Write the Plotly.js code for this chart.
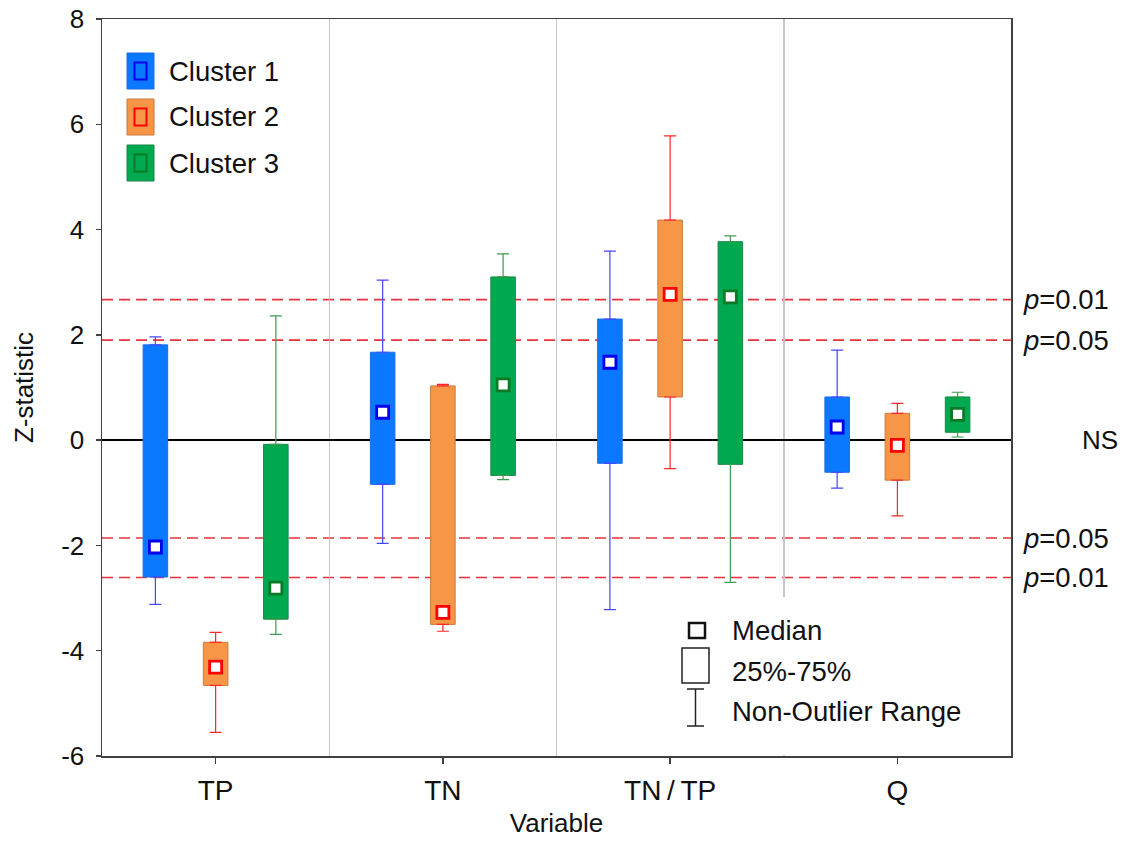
<!DOCTYPE html>
<html><head><meta charset="utf-8">
<script src="https://cdn.plot.ly/plotly-3.0.1.min.js"></script>
<style>html,body{margin:0;padding:0;background:#fff}</style>
</head><body><div id="chart" style="width:1123px;height:848px"></div>
<script>
// ---- data ----
const categories = ['TP', 'TN', 'TN/TP', 'Q'];
const tickLabels = ['TP', 'TN', 'TN\u2009/\u2009TP', 'Q'];
const clusterNames = ['Cluster 1', 'Cluster 2', 'Cluster 3'];

const c1Median = [-2.03, 0.53, 1.48, 0.25];
const c1Q1     = [-2.60, -0.84, -0.44, -0.61];
const c1Q3     = [1.81, 1.67, 2.30, 0.82];
const c1Min    = [-3.12, -1.96, -3.22, -0.91];
const c1Max    = [1.96, 3.04, 3.59, 1.71];

const c2Median = [-4.31, -3.27, 2.77, -0.10];
const c2Q1     = [-4.66, -3.50, 0.82, -0.76];
const c2Q3     = [-3.84, 1.03, 4.18, 0.51];
const c2Min    = [-5.55, -3.63, -0.54, -1.44];
const c2Max    = [-3.65, 1.06, 5.78, 0.70];

const c3Median = [-2.81, 1.05, 2.72, 0.49];
const c3Q1     = [-3.40, -0.67, -0.46, 0.15];
const c3Q3     = [-0.08, 3.10, 3.77, 0.82];
const c3Min    = [-3.69, -0.75, -2.70, 0.06];
const c3Max    = [2.36, 3.54, 3.88, 0.91];

const yTickVals = [-6, -4, -2, 0, 2, 4, 6, 8];
const yTickText = ['-6', '-4', '-2', '0', '2', '4', '6', '8'];
const pLevels = [2.67, 1.90, -1.86, -2.61];
const pLabels = ['0.01', '0.05', '0.05', '0.01'];
const nsLabel = 'NS';

// ---- styles ----
const FONT = 'Liberation Sans, Arial, sans-serif';
const fills    = ['#0a78ff', '#f79646', '#00a84f'];
const outlines = ['#1a6fe6', '#c97b3c', '#17884a'];
const whiskerC = ['#4646ff', '#ff2626', '#3e9a4e'];
const medEdge  = ['#0000ee', '#ff0000', '#0a7a25'];
const offsets  = [-0.265, 0, 0.265];
const boxW = 0.108;

const stats = [
  {med: c1Median, q1: c1Q1, q3: c1Q3, lo: c1Min, hi: c1Max},
  {med: c2Median, q1: c2Q1, q3: c2Q3, lo: c2Min, hi: c2Max},
  {med: c3Median, q1: c3Q1, q3: c3Q3, lo: c3Min, hi: c3Max}
];

const traces = [];
stats.forEach((s, k) => {
  const xs = categories.map((_, i) => i + offsets[k]);
  traces.push({
    type: 'bar', x: xs, base: s.q1, y: s.q3.map((v, i) => v - s.q1[i]),
    width: boxW, name: clusterNames[k], showlegend: false,
    marker: {color: fills[k], line: {color: outlines[k], width: 1}},
    hoverinfo: 'skip'
  });
});
stats.forEach((s, k) => {
  const xs = categories.map((_, i) => i + offsets[k]);
  traces.push({
    type: 'scatter', mode: 'markers', x: xs, y: s.q3, showlegend: false,
    marker: {size: 1, color: 'rgba(0,0,0,0)'}, hoverinfo: 'skip',
    error_y: {type: 'data', symmetric: false, array: s.hi.map((v, i) => v - s.q3[i]),
      arrayminus: s.q3.map(() => 0), color: whiskerC[k], thickness: 1.2, width: 6}
  });
  traces.push({
    type: 'scatter', mode: 'markers', x: xs, y: s.q1, showlegend: false,
    marker: {size: 1, color: 'rgba(0,0,0,0)'}, hoverinfo: 'skip',
    error_y: {type: 'data', symmetric: false, array: s.q1.map(() => 0),
      arrayminus: s.q1.map((v, i) => v - s.lo[i]), color: whiskerC[k], thickness: 1.2, width: 6}
  });
});
stats.forEach((s, k) => {
  const xs = categories.map((_, i) => i + offsets[k]);
  traces.push({
    type: 'scatter', mode: 'markers', x: xs, y: s.med, showlegend: false,
    marker: {symbol: 'square', size: 12, color: '#ffffff', line: {color: medEdge[k], width: 2.8}},
    hoverinfo: 'skip'
  });
});

// ---- layout helpers (pixel -> paper) ----
const L = 102, R = 1011, T = 19, B = 756;
const px = p => (p - L) / (R - L);
const py = p => (B - p) / (B - T);

const shapes = [];
// white background behind the bottom-right key (hides the grid line there)
shapes.push({type: 'rect', xref: 'paper', yref: 'paper', layer: 'above',
  x0: px(662), x1: px(990), y0: py(755.2), y1: py(597), fillcolor: '#ffffff', line: {width: 0}});
// significance lines
pLevels.forEach(v => shapes.push({type: 'line', xref: 'paper', yref: 'y', layer: 'between',
  x0: 0, x1: 1, y0: v, y1: v, line: {color: '#e8333c', width: 1.6, dash: '11px,6px'}}));

// cluster key icons
const keyY = [71, 117, 163];
keyY.forEach((cy, k) => {
  shapes.push({type: 'rect', xref: 'paper', yref: 'paper', layer: 'above',
    x0: px(127), x1: px(154), y0: py(cy + 18), y1: py(cy - 18),
    fillcolor: fills[k], line: {color: outlines[k], width: 1}});
  shapes.push({type: 'rect', xref: 'paper', yref: 'paper', layer: 'above',
    x0: px(134.5), x1: px(146.5), y0: py(cy + 8.5), y1: py(cy - 8.5),
    fillcolor: 'rgba(0,0,0,0)', line: {color: medEdge[k], width: 2}});
});
// bottom-right key icons
shapes.push({type: 'rect', xref: 'paper', yref: 'paper', layer: 'above',
  x0: px(689), x1: px(705), y0: py(638), y1: py(623), line: {color: '#111', width: 2.5}});
shapes.push({type: 'rect', xref: 'paper', yref: 'paper', layer: 'above',
  x0: px(682), x1: px(709), y0: py(683), y1: py(648), line: {color: '#222', width: 1.5}});
shapes.push({type: 'line', xref: 'paper', yref: 'paper', layer: 'above',
  x0: px(695.5), x1: px(695.5), y0: py(726), y1: py(689), line: {color: '#222', width: 1.5}});
shapes.push({type: 'line', xref: 'paper', yref: 'paper', layer: 'above',
  x0: px(687), x1: px(704), y0: py(689), y1: py(689), line: {color: '#222', width: 1.5}});
shapes.push({type: 'line', xref: 'paper', yref: 'paper', layer: 'above',
  x0: px(687), x1: px(704), y0: py(726), y1: py(726), line: {color: '#222', width: 1.5}});

const annotations = [];
keyY.forEach((cy, k) => annotations.push({xref: 'paper', yref: 'paper', x: px(167), y: py(cy),
  xanchor: 'left', yanchor: 'middle', showarrow: false, text: clusterNames[k],
  font: {family: FONT, size: 27.5, color: '#111'}}));
[['Median', 630], ['25%-75%', 671], ['Non-Outlier Range', 711]].forEach(([t, cy]) =>
  annotations.push({xref: 'paper', yref: 'paper', x: px(730), y: py(cy),
    xanchor: 'left', yanchor: 'middle', showarrow: false, text: t,
    font: {family: FONT, size: 27.5, color: '#111'}}));
pLevels.forEach((v, i) => annotations.push({xref: 'paper', yref: 'y', x: px(1021), y: v,
  xanchor: 'left', yanchor: 'middle', showarrow: false, text: '<i>p</i>=' + pLabels[i],
  font: {family: FONT, size: 27.5, color: '#111'}}));
annotations.push({xref: 'paper', yref: 'y', x: px(1100), y: 0, xanchor: 'center', yanchor: 'middle',
  showarrow: false, text: nsLabel, font: {family: FONT, size: 26, color: '#111'}});

const layout = {
  width: 1123, height: 848,
  margin: {l: L, r: 1123 - R, t: T, b: 848 - B, pad: 0},
  paper_bgcolor: '#ffffff', plot_bgcolor: '#ffffff',
  barmode: 'overlay', showlegend: false,
  font: {family: FONT, color: '#111'},
  xaxis: {
    range: [-0.5, 3.5], tickmode: 'array', tickvals: categories.map((_, i) => i), ticktext: tickLabels,
    ticks: 'outside', ticklen: 6, tickwidth: 1.3, tickcolor: '#404040',
    showline: true, linecolor: '#404040', linewidth: 1.5, mirror: true,
    showgrid: false, zeroline: false,
    tickfont: {family: FONT, size: 28, color: '#111'}, ticklabelstandoff: 3,
    minor: {tickmode: 'array', tickvals: categories.slice(1).map((_, i) => i + 0.5),
      showgrid: true, gridcolor: '#c6c6c6', gridwidth: 1.5, ticks: ''},
    title: {text: 'Variable', font: {family: FONT, size: 26, color: '#111'}, standoff: 8}
  },
  yaxis: {
    range: [-6, 8], tickmode: 'array', tickvals: yTickVals, ticktext: yTickText,
    ticks: 'outside', ticklen: 5, tickwidth: 1.3, tickcolor: '#404040',
    showline: true, linecolor: '#404040', linewidth: 1.5, mirror: true,
    showgrid: false, zeroline: true, zerolinecolor: '#000000', zerolinewidth: 2.5,
    tickfont: {family: FONT, size: 26, color: '#111'}, ticklabelstandoff: 6,
    title: {text: 'Z-statistic', font: {family: FONT, size: 26, color: '#111'}, standoff: 20}
  },
  shapes: shapes,
  annotations: annotations
};

Plotly.newPlot('chart', traces, layout, {staticPlot: true, displayModeBar: false});
</script>
</body></html>
